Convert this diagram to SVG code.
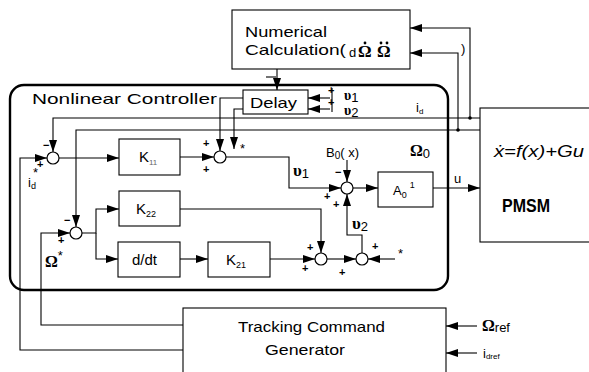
<svg xmlns="http://www.w3.org/2000/svg" width="589" height="372" viewBox="0 0 589 372">
<style>
.ln{fill:none;stroke:#000;stroke-width:1.1}
.ar{fill:none;stroke:#000;stroke-width:1.1;marker-end:url(#ah)}
.bx{fill:#fff;stroke:#000;stroke-width:1.1}
.sj{fill:#fff;stroke:#000;stroke-width:1.2}
.t{font-family:"Liberation Sans",Arial,sans-serif;font-size:15px;fill:#000}
.s{font-family:"Liberation Sans",Arial,sans-serif;font-size:13px;fill:#000}
.g{font-family:"Liberation Serif","DejaVu Serif",serif;font-weight:bold;fill:#000}
.sg{font-family:"Liberation Sans",Arial,sans-serif;font-size:11px;font-weight:bold;fill:#000}
</style>
<defs>
<marker id="ah" markerWidth="13" markerHeight="8" refX="12" refY="4" orient="auto" markerUnits="userSpaceOnUse">
<path d="M0,0 L12,4 L0,8 z" fill="#000"/>
</marker>
</defs>
<rect width="589" height="372" fill="#fff"/>

<g id="controller">
<rect x="10" y="85" width="438" height="205" rx="14" fill="none" stroke="#000" stroke-width="2.4"/>
<text class="t" x="32" y="104" textLength="185" lengthAdjust="spacingAndGlyphs">Nonlinear Controller</text>
</g>

<g id="numerical">
<rect class="bx" x="232" y="10" width="178" height="59"/>
<text class="t" x="245" y="37" textLength="82" lengthAdjust="spacingAndGlyphs">Numerical</text>
<text class="t" x="245" y="55" textLength="101" lengthAdjust="spacingAndGlyphs">Calculation(</text>
<text class="s" x="349" y="57" font-size="8">d</text>
<text class="g" x="358" y="57" font-size="17">Ω</text>
<text class="g" x="377" y="57" font-size="17">Ω</text>
<circle cx="365" cy="43" r="1.4" fill="#000"/>
<circle cx="381" cy="43" r="1.4" fill="#000"/>
<circle cx="387" cy="43" r="1.4" fill="#000"/>
</g>
<text class="s" x="461" y="53" font-size="14">)</text>

<g id="delay">
<rect class="bx" x="243" y="90" width="65" height="24"/>
<text class="t" x="250" y="108" textLength="47" lengthAdjust="spacingAndGlyphs">Delay</text>
</g>

<g id="k11">
<rect class="bx" x="119" y="139" width="61" height="36"/>
<text class="t" x="139" y="162">K<tspan font-size="8" dy="3" fill="#666">11</tspan></text>
</g>
<g id="k22">
<rect class="bx" x="119" y="191" width="61" height="35"/>
<text class="t" x="136" y="214">K<tspan font-size="9" dy="3">22</tspan></text>
</g>
<g id="ddt">
<rect class="bx" x="118" y="242" width="62" height="35"/>
<text class="t" x="132" y="265">d/dt</text>
</g>
<g id="k21">
<rect class="bx" x="208" y="242" width="62" height="35"/>
<text class="t" x="226" y="265">K<tspan font-size="9" dy="3">21</tspan></text>
</g>
<g id="ainv">
<rect class="bx" x="378" y="172" width="55" height="35"/>
<text class="s" x="393" y="195">A<tspan font-size="9" dy="3">0</tspan><tspan font-size="9" dx="3" dy="-10">1</tspan></text>
</g>
<g id="pmsm">
<rect class="bx" x="480" y="108" width="120" height="134"/>
<text x="494" y="157" font-family="Liberation Sans,Arial,sans-serif" font-style="italic" font-size="17" textLength="90" lengthAdjust="spacingAndGlyphs">ẋ=f(x)+Gu</text>
<text x="502" y="212" font-family="Liberation Sans,Arial,sans-serif" font-weight="bold" font-size="19" textLength="48" lengthAdjust="spacingAndGlyphs">PMSM</text>
</g>
<g id="tracking">
<rect class="bx" x="183" y="308" width="263" height="70"/>
<text class="t" x="238" y="332" textLength="147" lengthAdjust="spacingAndGlyphs">Tracking Command</text>
<text class="t" x="265" y="355" textLength="80" lengthAdjust="spacingAndGlyphs">Generator</text>
</g>

<g id="summers">
<circle class="sj" id="s1" cx="53" cy="158" r="6"/>
<circle class="sj" id="s2" cx="220" cy="157" r="6"/>
<circle class="sj" id="s3" cx="76" cy="233" r="6"/>
<circle class="sj" id="s4" cx="321" cy="259" r="6"/>
<circle class="sj" id="s5" cx="362" cy="259" r="6"/>
<circle class="sj" id="s6" cx="347" cy="188" r="6"/>
</g>

<g id="connectors">
<polyline class="ar" points="480,118 53,118 53,152"/>
<polyline class="ar" points="480,130 76,130 76,227"/>
<polyline class="ar" points="470,118 470,28 410,28"/>
<polyline class="ar" points="458,130 458,53 410,53"/>
<circle cx="470" cy="118" r="1.8" fill="#000"/>
<circle cx="458" cy="130" r="1.8" fill="#000"/>
<polyline class="ar" points="277,69 277,90"/>
<line class="ln" x1="266" y1="77" x2="276" y2="77"/>
<polyline class="ar" points="330,98 308,98"/>
<polyline class="ar" points="330,109 308,109"/>
<line class="ln" x1="332" y1="88" x2="332" y2="112"/>
<polyline class="ar" points="243,98 220,98 220,151"/>
<polyline class="ar" points="243,109 234,109 234,149"/>
<polyline class="ar" points="183,350 20,350 20,158 47,158"/>
<polyline class="ar" points="59,158 119,158"/>
<polyline class="ar" points="180,157 214,157"/>
<polyline class="ar" points="226,157 289,157 289,188 341,188"/>
<polyline class="ar" points="347,160 347,182"/>
<polyline class="ar" points="353,188 378,188"/>
<polyline class="ar" points="433,188 480,188"/>
<polyline class="ar" points="362,253 362,235 347,235 347,194"/>
<polyline class="ar" points="183,325 41,325 41,233 70,233"/>
<polyline class="ar" points="82,233 96,233 96,209 119,209"/>
<polyline class="ar" points="96,233 96,259 118,259"/>
<polyline class="ar" points="180,209 321,209 321,253"/>
<polyline class="ar" points="180,259 208,259"/>
<polyline class="ar" points="270,259 315,259"/>
<polyline class="ar" points="327,259 356,259"/>
<polyline class="ar" points="395,259 368,259"/>
<polyline class="ar" points="477,326 446,326"/>
<polyline class="ar" points="477,353 446,353"/>
</g>

<g id="labels">
<text class="sg" x="328" y="94">+</text>
<text class="sg" x="328" y="106">+</text>
<text class="g" x="344" y="100" font-size="14">υ<tspan class="s" font-size="9" font-weight="normal" dy="2">1</tspan></text>
<text class="g" x="344" y="115" font-size="14">υ<tspan class="s" font-size="9" font-weight="normal" dy="2">2</tspan></text>
<text class="s" x="416" y="112" font-size="12">i<tspan font-size="8" dy="2">d</tspan></text>
<text class="sg" x="43" y="149">−</text>
<text class="sg" x="37" y="168">+</text>
<text class="s" x="28" y="187" font-size="13">i<tspan font-size="9" dy="2">d</tspan></text>
<text class="s" x="33" y="177" font-size="9">*</text>
<text class="sg" x="203" y="147">+</text>
<text class="sg" x="203" y="173">+</text>
<text class="s" x="240" y="153" font-size="10">*</text>
<text class="g" x="293" y="176" font-size="17">υ<tspan class="s" font-size="8" font-weight="normal" dy="2">1</tspan></text>
<text class="s" x="326" y="157" font-size="16">B<tspan font-size="10" dy="2">0</tspan><tspan dy="-2">( x)</tspan></text>
<text class="sg" x="335" y="176">−</text>
<text class="g" x="410" y="156" font-size="16">Ω<tspan class="s" font-size="9" font-weight="normal" dy="2">0</tspan></text>
<text class="s" x="454" y="183" font-size="15">u</text>
<text class="sg" x="324" y="200">+</text>
<text class="sg" x="333" y="208">+</text>
<text class="g" x="352" y="229" font-size="17">υ<tspan class="s" font-size="10" font-weight="normal" dy="2">2</tspan></text>
<text class="sg" x="64" y="224">−</text>
<text class="sg" x="58" y="244">+</text>
<text class="g" x="45" y="267" font-size="16">Ω<tspan class="s" font-size="11" font-weight="normal" dy="-7">*</tspan></text>
<text class="sg" x="307" y="251">+</text>
<text class="sg" x="302" y="272">+</text>
<text class="sg" x="339" y="276">+</text>
<text class="sg" x="372" y="250">+</text>
<text class="s" x="398" y="258" font-size="10">*</text>
<text class="g" x="482" y="331" font-size="16">Ω<tspan class="s" font-size="8" font-weight="normal" dy="1">ref</tspan></text>
<text class="s" x="483" y="358" font-size="15">i<tspan font-size="8" dy="1">dref</tspan></text>
</g>
</svg>
